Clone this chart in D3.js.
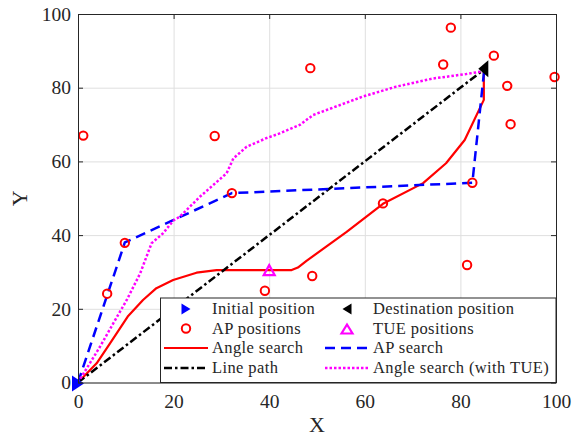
<!DOCTYPE html>
<html>
<head>
<meta charset="utf-8">
<script src="https://cdn.jsdelivr.net/npm/d3@7"></script>
<style>
  body { margin: 0; background: #fff; }
  svg text { font-family: "Liberation Serif", "DejaVu Serif", serif; fill: #262626; }
</style>
</head>
<body>
<div id="chart"></div>
<script>
// data
const xTicks = [0, 20, 40, 60, 80, 100];
const yTicks = [0, 20, 40, 60, 80, 100];

const initialPos = [0, 0];
const destinationPos = [85, 85];

const apX = [1.1, 28.6, 32.2, 6.1, 9.8, 39.1, 49.0, 81.4, 48.6, 63.8, 76.4, 78.0, 87.0, 89.8, 90.5, 99.7, 82.5];
const apY = [67.0, 66.9, 51.4, 24.1, 37.9, 24.9, 28.9, 31.9, 85.3, 48.6, 86.3, 96.3, 88.7, 80.5, 70.1, 82.9, 54.2];

const tueX = [40];
const tueY = [30.5];

const angleX = [0, 3.9, 6.7, 10.4, 13.6, 16.4, 19.9, 24.8, 29.0, 44.7, 46.0, 47.8, 56.2, 63.8, 72.2, 77.0, 80.9, 84.9, 84.9];
const angleY = [0, 5.2, 10.6, 17.9, 22.4, 25.6, 27.8, 29.8, 30.5, 30.5, 31.2, 33.0, 40.9, 48.5, 54.1, 59.5, 65.8, 76.7, 84.5];

const apSearchX = [0, 9.8, 32.2, 82.5, 85];
const apSearchY = [0, 38.0, 51.4, 54.2, 85];

const lineX = [0, 85];
const lineY = [0, 85];

const tueSearchX = [0, 4.6, 7.4, 10.2, 13.0, 15.4, 17.8, 19.9, 21.3, 25.5, 31.1, 32.5, 35.3, 39.4, 42.2, 46.4, 49.2, 59.6, 66.6, 74.3, 81.2, 84.9];
const tueSearchY = [0, 9.7, 16.1, 22.4, 29.6, 37.8, 40.5, 43.9, 45.0, 50.4, 56.8, 60.8, 64.0, 66.3, 67.6, 69.9, 72.6, 77.6, 80.3, 82.5, 83.7, 84.5];

const width = 573, height = 436;
const pLeft = 78, pRight = 556, pTop = 14, pBottom = 382.5;
const serif = "'Liberation Serif', 'DejaVu Serif', serif";

const svg = d3.select("#chart").append("svg")
    .attr("width", width)
    .attr("height", height);

const x = d3.scaleLinear().domain([0, 100]).range([pLeft, pRight]);
const y = d3.scaleLinear().domain([0, 100]).range([pBottom, pTop]);

// grid
svg.append("g")
    .attr("transform", "translate(0," + pBottom + ")")
    .call(d3.axisBottom(x).tickValues(xTicks).tickSize(-(pBottom - pTop)).tickFormat(""))
    .call(g => g.select(".domain").remove())
    .call(g => g.selectAll("line").attr("stroke", "#dfdfdf"));
svg.append("g")
    .attr("transform", "translate(" + pLeft + ",0)")
    .call(d3.axisLeft(y).tickValues(yTicks).tickSize(-(pRight - pLeft)).tickFormat(""))
    .call(g => g.select(".domain").remove())
    .call(g => g.selectAll("line").attr("stroke", "#dfdfdf"));

// custom isosceles triangle pointing right, for d3.symbol
function triangle(w, h) {
    return {
        draw(ctx) {
            ctx.moveTo(w / 2, 0);
            ctx.lineTo(-w / 2, -h / 2);
            ctx.lineTo(-w / 2, h / 2);
            ctx.closePath();
        }
    };
}

const lineGen = d3.line().x(d => x(d[0])).y(d => y(d[1]));
const zip = (xs, ys) => xs.map((v, i) => [v, ys[i]]);

const plot = svg.append("g");

function drawSeries(g, pts, color, dash) {
    g.append("path")
        .datum(pts)
        .attr("d", lineGen)
        .attr("fill", "none")
        .attr("stroke", color)
        .attr("stroke-width", dash ? 2.5 : 2.2)
        .attr("stroke-dasharray", dash)
        .attr("stroke-linejoin", "round");
}

drawSeries(plot, zip(angleX, angleY), "#ff0000", null);
drawSeries(plot, zip(lineX, lineY), "#000000", "8,3,2.5,3");
drawSeries(plot, zip(apSearchX, apSearchY), "#0000ff", "10,6");
drawSeries(plot, zip(tueSearchX, tueSearchY), "#ff00ff", "2.5,2");

// AP circles
plot.selectAll(".ap").data(zip(apX, apY)).enter().append("circle")
    .attr("class", "ap")
    .attr("cx", d => x(d[0]))
    .attr("cy", d => y(d[1]))
    .attr("r", 4.2)
    .attr("fill", "none")
    .attr("stroke", "#ff0000")
    .attr("stroke-width", 2);

// TUE triangles
plot.selectAll(".tue").data(zip(tueX, tueY)).enter().append("path")
    .attr("class", "tue")
    .attr("d", d3.symbol(triangle(10, 11))())
    .attr("transform", d => "translate(" + x(d[0]) + "," + y(d[1]) + ") rotate(-90)")
    .attr("fill", "none")
    .attr("stroke", "#ff00ff")
    .attr("stroke-width", 2.2);

// initial & destination
plot.append("path")
    .attr("d", d3.symbol(triangle(12, 16))())
    .attr("transform", "translate(" + x(initialPos[0]) + "," + (y(initialPos[1]) + 1) + ")")
    .attr("fill", "#0000ff");
plot.append("path")
    .attr("d", d3.symbol(triangle(10, 17))())
    .attr("transform", "translate(" + (x(destinationPos[0]) - 1) + "," + (y(destinationPos[1]) - 0.5) + ") rotate(180)")
    .attr("fill", "#000000");

// axes box with inward ticks
const tickLen = 5;
function styleAxis(g) {
    g.attr("font-family", serif);
    g.selectAll(".domain").attr("stroke", "#262626");
    g.selectAll(".tick line").attr("stroke", "#262626");
    g.selectAll("text").attr("font-size", 19.5).attr("fill", "#262626");
}
svg.append("g")
    .attr("transform", "translate(0," + pBottom + ")")
    .call(d3.axisBottom(x).tickValues(xTicks).tickSizeInner(-tickLen).tickSizeOuter(0).tickPadding(12))
    .call(styleAxis);
svg.append("g")
    .attr("transform", "translate(0," + pTop + ")")
    .call(d3.axisTop(x).tickValues(xTicks).tickSizeInner(-tickLen).tickSizeOuter(0).tickFormat(""))
    .call(styleAxis);
svg.append("g")
    .attr("transform", "translate(" + pLeft + ",0)")
    .call(d3.axisLeft(y).tickValues(yTicks).tickSizeInner(-tickLen).tickSizeOuter(0).tickPadding(7))
    .call(styleAxis);
svg.append("g")
    .attr("transform", "translate(" + pRight + ",0)")
    .call(d3.axisRight(y).tickValues(yTicks).tickSizeInner(-tickLen).tickSizeOuter(0).tickFormat(""))
    .call(styleAxis);

// axis labels
svg.append("text")
    .attr("x", (pLeft + pRight) / 2)
    .attr("y", 432)
    .attr("text-anchor", "middle")
    .attr("font-family", serif)
    .attr("font-size", 22)
    .text("X");
svg.append("text")
    .attr("transform", "translate(27," + ((pTop + pBottom) / 2) + ") rotate(-90)")
    .attr("text-anchor", "middle")
    .attr("font-family", serif)
    .attr("font-size", 22)
    .text("Y");

// legend
const legend = svg.append("g");
legend.append("rect")
    .attr("x", 160.5).attr("y", 298)
    .attr("width", pRight - 160.5).attr("height", pBottom - 298)
    .attr("fill", "#fff")
    .attr("stroke", "#262626")
    .attr("stroke-width", 1);

const legendItems = [
    { label: "Initial position", col: 0, row: 0, kind: "init" },
    { label: "AP positions", col: 0, row: 1, kind: "ap" },
    { label: "Angle search", col: 0, row: 2, kind: "line", color: "#ff0000", dash: null },
    { label: "Line path", col: 0, row: 3, kind: "line", color: "#000000", dash: "8,3,2.5,3" },
    { label: "Destination position", col: 1, row: 0, kind: "dest" },
    { label: "TUE positions", col: 1, row: 1, kind: "tue" },
    { label: "AP search", col: 1, row: 2, kind: "line", color: "#0000ff", dash: "10,6" },
    { label: "Angle search (with TUE)", col: 1, row: 3, kind: "line", color: "#ff00ff", dash: "2.5,2" }
];
const colX = [164, 325];
const rowY = [309, 328.5, 348, 368];

legendItems.forEach(it => {
    const x0 = colX[it.col], x1 = x0 + 44, cy = rowY[it.row], cx = (x0 + x1) / 2;
    const g = legend.append("g");
    if (it.kind === "line") {
        g.append("line")
            .attr("x1", x0).attr("x2", x1).attr("y1", cy).attr("y2", cy)
            .attr("stroke", it.color)
            .attr("stroke-width", it.dash ? 2.5 : 2.2)
            .attr("stroke-dasharray", it.dash);
    } else if (it.kind === "ap") {
        g.append("circle").attr("cx", cx).attr("cy", cy).attr("r", 4.2)
            .attr("fill", "none").attr("stroke", "#ff0000").attr("stroke-width", 2);
    } else if (it.kind === "tue") {
        g.append("path").attr("d", d3.symbol(triangle(9, 11))())
            .attr("transform", "translate(" + cx + "," + (cy + 0.5) + ") rotate(-90)")
            .attr("fill", "none").attr("stroke", "#ff00ff").attr("stroke-width", 2.2);
    } else if (it.kind === "init") {
        g.append("path").attr("d", d3.symbol(triangle(9, 11))())
            .attr("transform", "translate(" + cx + "," + cy + ")")
            .attr("fill", "#0000ff");
    } else if (it.kind === "dest") {
        g.append("path").attr("d", d3.symbol(triangle(9, 11))())
            .attr("transform", "translate(" + cx + "," + cy + ") rotate(180)")
            .attr("fill", "#000000");
    }
    g.append("text")
        .attr("x", x1 + 4)
        .attr("y", cy)
        .attr("dy", "0.33em")
        .attr("font-family", serif)
        .attr("font-size", 16.5)
        .attr("letter-spacing", 0.4)
        .text(it.label);
});
</script>
</body>
</html>
